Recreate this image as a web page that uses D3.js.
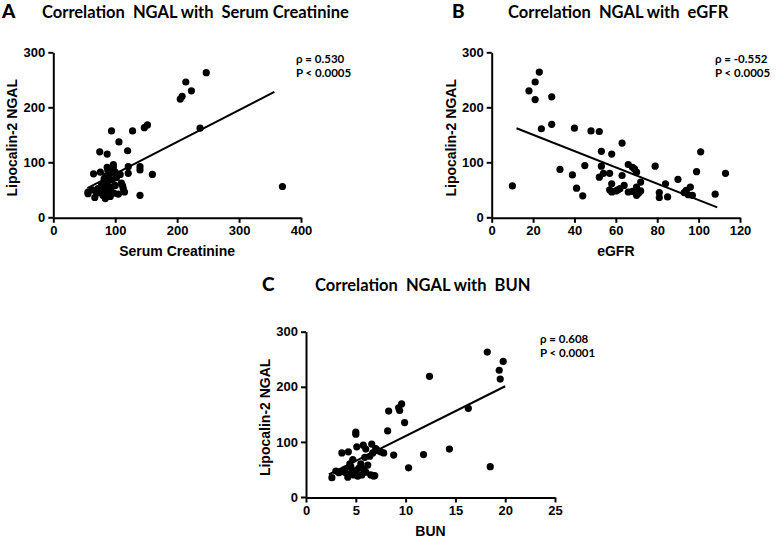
<!DOCTYPE html>
<html>
<head>
<meta charset="utf-8">
<script src="https://d3js.org/d3.v7.min.js"></script>
<style>
    body { margin: 0; background: #fff; }
    .axis path, .axis line { stroke: #000; stroke-width: 2px; }
    .axis text { font-family: "Liberation Sans", Arial, sans-serif; font-weight: bold; font-size: 13px; fill: #000; }
    .title { font-family: Lato, "Open Sans", sans-serif; font-weight: bold; font-size: 16.5px; white-space: pre; }
    .letter { font-family: Lato, "Open Sans", sans-serif; font-weight: 900; font-size: 19px; }
    .alabel { font-family: "Liberation Sans", Arial, sans-serif; font-weight: bold; font-size: 14px; }
    .stat { font-family: Lato, "Open Sans", sans-serif; font-weight: bold; font-size: 11.5px; }
    .fit { fill: none; stroke: #000; stroke-width: 2px; }
</style>
</head>
<body>
<script>
    // values
    var ngalTicks = [0, 100, 200, 300];

    // A: serum creatinine vs NGAL
    var scrTicks = [0, 100, 200, 300, 400];
    var scrValues = [247, 214, 223, 208, 205, 237, 370, 152, 147, 128, 94, 106, 120, 75, 87, 140, 140, 160, 121, 121,
        65, 56, 56, 67, 84, 140, 76, 87, 97, 97, 90, 100, 108, 82, 88, 95, 78, 85, 92, 100,
        112, 113, 115, 83, 75, 70, 90, 98, 105, 80, 92, 72, 85, 102, 110, 63, 88, 93, 80];
    var scrNgal = [263, 246, 230, 220, 215, 162, 56, 168, 163, 157, 157, 137, 121, 119, 115, 92, 86, 78, 92, 80,
        79, 46, 43, 36, 34, 40, 82, 91, 96, 90, 80, 82, 78, 70, 66, 68, 60, 57, 55, 58,
        57, 52, 46, 50, 48, 44, 45, 44, 42, 40, 38, 52, 75, 72, 62, 50, 85, 48, 42];
    var scrFitX = [55, 357], scrFitY = [53, 228];
    var scrStats = ["ρ = 0.530", "P < 0.0005"];

    // B: eGFR vs NGAL
    var egfrTicks = [0, 20, 40, 60, 80, 100, 120];
    var egfrValues = [10, 18, 21, 23, 21, 29, 24, 29, 33, 40, 39, 41, 44, 45, 48, 52, 53, 53, 52, 54,
        57, 58, 63, 58, 58, 57, 61, 64, 63, 66, 68, 70, 72, 66, 68, 70, 70, 72, 71, 79,
        81, 81, 84, 85, 90, 93, 95, 96, 97, 94, 99, 101, 108, 113, 60, 62, 69];
    var egfrNgal = [57, 230, 246, 264, 214, 219, 161, 169, 87, 162, 77, 53, 39, 94, 157, 156, 120, 93, 73, 80,
        80, 115, 135, 61, 46, 50, 50, 58, 76, 96, 91, 82, 64, 46, 47, 55, 40, 48, 44, 93,
        45, 36, 61, 37, 69, 45, 41, 55, 40, 49, 83, 119, 42, 80, 48, 52, 88];
    var egfrFitX = [12, 109], egfrFitY = [162, 18];
    var egfrStats = ["ρ = -0.552", "P < 0.0005"];

    // C: BUN vs NGAL
    var bunTicks = [0, 5, 10, 15, 20, 25];
    var bunValues = [18.2, 19.8, 19.4, 19.5, 12.4, 16.3, 18.5, 14.4, 11.8, 10.3, 9.9, 9.6, 9.3, 9.4, 8.3, 8.2, 8.8, 5, 5, 2.6,
        3.6, 4.25, 5.1, 5.75, 6.6, 7.0, 7.2, 6.7, 6.0, 3.0, 3.5, 4.0, 4.2, 4.8, 5.3, 5.6, 6.0, 6.2, 6.8, 6.5,
        4.5, 4.7, 5.5, 5.9, 6.4, 7.5, 3.9, 5.0, 4.4, 5.8, 6.9, 4.6, 3.3, 7.8, 5.2];
    var bunNgal = [263, 246, 230, 214, 219, 161, 55, 87, 77, 53, 135, 169, 162, 157, 156, 120, 76, 118, 114, 35,
        80, 82, 91, 94, 96, 88, 84, 80, 87, 47, 46, 44, 36, 40, 52, 40, 45, 58, 38, 40,
        55, 68, 60, 72, 74, 82, 50, 48, 60, 50, 39, 44, 44, 80, 38];
    var bunFitX = [2.3, 20], bunFitY = [41, 201];
    var bunStats = ["ρ = 0.608", "P < 0.0001"];

    var svg = d3.select("body").append("svg")
        .attr("width", 777)
        .attr("height", 538);

    var panels = [
        {letter: "A", title: "Correlation  NGAL with  Serum Creatinine", xLabel: "Serum Creatinine",
         xs: scrValues, ys: scrNgal, fitX: scrFitX, fitY: scrFitY, stats: scrStats, xTicks: scrTicks,
         left: 53.3, top: 52.3, w: 247.7, h: 165, letterX: 2, titleX: 42, titleY: 18, statX: 296},
        {letter: "B", title: "Correlation  NGAL with  eGFR", xLabel: "eGFR",
         xs: egfrValues, ys: egfrNgal, fitX: egfrFitX, fitY: egfrFitY, stats: egfrStats, xTicks: egfrTicks,
         left: 491.7, top: 52.3, w: 248.3, h: 165, letterX: 452, titleX: 508, titleY: 18, statX: 715},
        {letter: "C", title: "Correlation  NGAL with  BUN", xLabel: "BUN",
         xs: bunValues, ys: bunNgal, fitX: bunFitX, fitY: bunFitY, stats: bunStats, xTicks: bunTicks,
         left: 306, top: 331.7, w: 249, h: 165.3, letterX: 262, titleX: 315, titleY: 291, statX: 540}
    ];

    panels.forEach(function(p) {
        var x = d3.scaleLinear()
            .domain([p.xTicks[0], p.xTicks[p.xTicks.length - 1]])
            .range([0, p.w]);
        var y = d3.scaleLinear().domain([0, 300]).range([p.h, 0]);

        // panel letter + title
        svg.append("text")
            .attr("class", "letter")
            .attr("x", p.letterX)
            .attr("y", p.titleY)
            .text(p.letter);
        svg.append("text")
            .attr("class", "title")
            .attr("xml:space", "preserve")
            .attr("x", p.titleX)
            .attr("y", p.titleY)
            .text(p.title);

        var g = svg.append("g")
            .attr("transform", "translate(" + p.left + "," + p.top + ")");

        // axes
        g.append("g")
            .attr("class", "axis")
            .attr("transform", "translate(0," + (p.h + 0.5) + ")")
            .call(d3.axisBottom(x).tickValues(p.xTicks).tickSize(5).tickSizeOuter(0).tickPadding(3));
        g.append("g")
            .attr("class", "axis")
            .call(d3.axisLeft(y).tickValues(ngalTicks).tickSize(5).tickSizeOuter(0).tickPadding(3));

        // axis labels
        g.append("text")
            .attr("class", "alabel")
            .attr("text-anchor", "middle")
            .attr("transform", "translate(-36," + (p.h / 2 + 3) + ") rotate(-90)")
            .text("Lipocalin-2 NGAL");
        g.append("text")
            .attr("class", "alabel")
            .attr("text-anchor", "middle")
            .attr("x", p.w / 2)
            .attr("y", p.h + 39)
            .text(p.xLabel);

        // regression line
        var line = d3.line()
            .x(function(d) { return x(d[0]); })
            .y(function(d) { return y(d[1]); });
        g.append("path")
            .datum(d3.zip(p.fitX, p.fitY))
            .attr("class", "fit")
            .attr("d", line);

        // points
        g.selectAll(".dot")
            .data(d3.zip(p.xs, p.ys))
            .enter().append("circle")
            .attr("class", "dot")
            .attr("cx", function(d) { return x(d[0]); })
            .attr("cy", function(d) { return y(d[1]); })
            .attr("r", 3.6)
            .attr("fill", "#000");

        // stats
        p.stats.forEach(function(s, i) {
            svg.append("text")
                .attr("class", "stat")
                .attr("x", p.statX)
                .attr("y", p.top + 11 + i * 14)
                .text(s);
        });
    });
</script>
</body>
</html>
